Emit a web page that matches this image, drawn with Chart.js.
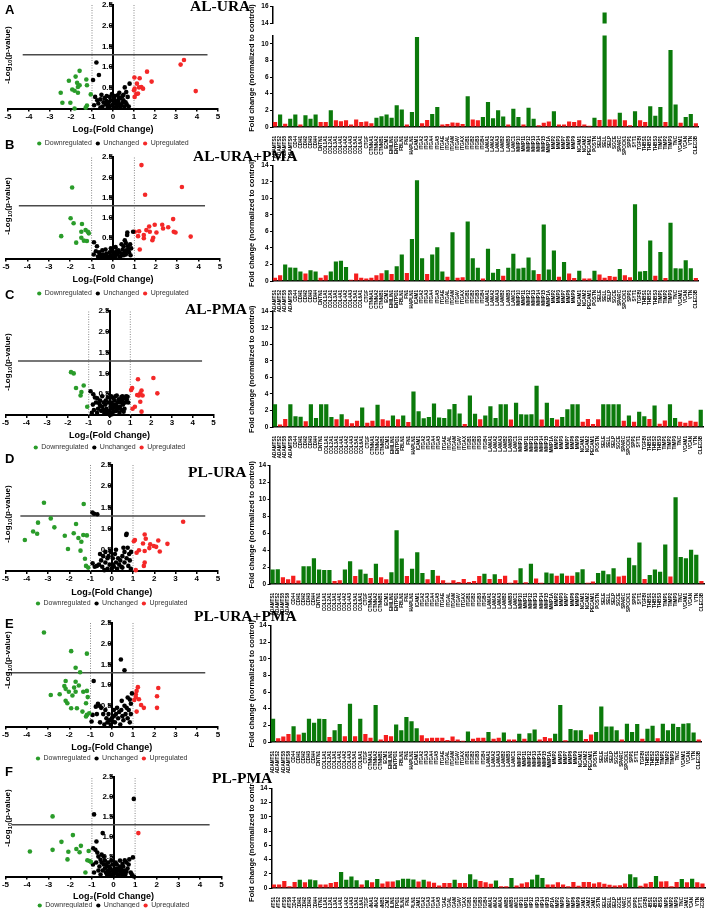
<!DOCTYPE html>
<html>
<head>
<meta charset="utf-8">
<script src="https://cdn.jsdelivr.net/npm/chart.js@4.4.0/dist/chart.umd.min.js"></script>
<style>
    body    { margin: 0; width: 709px; height: 908px; position: relative; overflow: hidden; background: #fff; }
    canvas  { position: absolute; }
    .letter { position: absolute; left: 5px; font: bold 13px/13px 'Liberation Sans', Arial, sans-serif; color: #000; }
    .title  { position: absolute; font: bold 15.5px/15.5px 'Liberation Serif', 'Times New Roman', serif; color: #000; white-space: nowrap; }
    .ytitle { position: absolute; font: bold 8px/8px 'Liberation Sans', Arial, sans-serif; color: #000; white-space: nowrap;
              transform: translate(-50%, -50%) rotate(-90deg); }
</style>
</head>
<body>
<script>
const GENES = [
    'ADAMTS1','ADAMTS2','ADAMTS5','ADAMTS8','CD44','CDH1','CDH2','CDH3','CDH4','CNTN1',
    'COL1A1','COL2A1','COL3A1','COL4A1','COL4A2','COL4A3','COL5A1','COL6A1','CTGF','CTNNA1',
    'CTNNA2','CTNNB1','ECM1','EMILIN1','ENTPD1','FBLN1','FN1','HAPLN1','ICAM1','ITGA2',
    'ITGA3','ITGA4','ITGA5','ITGAE','ITGAL','ITGAM','ITGAV','ITGAX','ITGB1','ITGB2',
    'ITGB3','ITGB4','LAMA1','LAMA2','LAMA3','LAMB2','LAMB3','LAMC1','MMP10','MMP11',
    'MMP12','MMP13','MMP14','MMP15','MMP1A','MMP2','MMP3','MMP7','MMP8','MMP9',
    'NCAM1','NCAM2','PECAM1','POSTN','SELE','SELL','SELP','SGCE','SPARC','SPOCK1',
    'SPP1','SYT1','TGFBI','THBS1','THBS2','THBS3','TIMP1','TIMP2','TIMP3','TNC',
    'VCAM1','VCAN','VTN','CLEC3B',
];

// fold change per gene, one array per condition
const FC_AL_URA = [
    0.6,1.5,0.4,1.0,1.5,0.3,1.4,1.0,1.5,0.6, 0.6,2.0,0.8,0.7,0.8,0.3,0.9,0.6,0.65,0.45,
    1.1,1.3,1.5,1.1,2.6,2.1,0.3,1.8,10.8,0.45, 0.85,1.55,2.4,0.3,0.35,0.55,0.5,0.35,3.7,0.9,
    0.8,1.2,3.0,1.05,2.0,1.25,0.3,2.2,1.2,0.3, 2.3,1.0,0.2,0.5,0.65,1.9,0.3,0.3,0.65,0.6,
    0.8,0.3,0.15,1.1,0.85,15.3,0.9,0.9,1.7,0.8, 0.2,1.9,0.8,0.6,2.5,1.35,2.4,0.6,9.25,2.7,
    0.5,1.2,1.55,0.45,
];
const FC_AL_URA_PMA = [
    0.4,0.7,2.0,1.65,1.6,1.15,0.9,1.3,1.15,0.4, 0.7,1.15,2.35,2.45,1.7,0.15,0.9,0.4,0.3,0.4,
    0.7,0.95,1.3,0.85,1.8,3.2,0.97,5.1,12.2,2.75, 0.85,3.2,4.1,1.15,0.5,5.9,0.4,0.45,7.2,2.75,
    1.6,0.3,3.9,1.0,1.45,0.65,1.6,3.3,1.5,1.6, 2.85,1.3,0.85,6.85,1.4,3.7,0.5,2.3,0.9,0.35,
    1.25,0.3,0.3,1.25,0.8,0.4,0.6,0.5,1.45,0.7, 0.45,9.3,1.15,1.2,4.9,0.65,3.5,0.35,7.05,1.55,
    1.5,2.5,1.55,0.35,
];
const FC_AL_PMA = [
    2.75,0.3,0.97,2.75,1.3,1.25,0.7,2.75,1.1,2.75, 2.75,1.2,0.95,1.55,0.95,0.45,0.75,2.35,0.5,0.75,
    2.7,0.95,0.8,1.4,0.95,1.4,0.6,4.3,1.9,1.05, 1.2,2.85,1.15,1.1,2.15,2.8,1.65,0.35,3.8,1.6,
    0.95,1.4,2.5,1.1,2.75,2.75,0.9,2.95,1.55,1.5, 1.55,5.0,0.9,2.95,1.1,0.9,1.2,2.15,2.75,2.75,
    0.65,0.97,0.35,0.95,2.75,2.75,2.75,2.75,0.75,1.4, 0.65,1.85,1.3,0.97,2.6,0.4,0.8,2.75,1.1,0.65,
    0.5,0.75,0.65,2.1,
];
const FC_PL_URA = [
    1.7,1.75,0.8,0.55,0.97,0.4,2.1,2.1,3.05,1.7, 1.65,1.65,0.35,0.45,1.7,2.7,0.95,1.7,1.2,0.7,
    2.4,0.8,0.55,1.4,6.35,3.0,0.95,1.8,3.75,1.3, 0.55,1.65,0.97,0.45,0.15,0.45,0.25,0.6,0.25,0.35,
    0.95,1.2,0.6,1.15,0.6,0.97,0.15,0.45,1.85,0.2, 2.4,0.65,0.15,1.35,1.25,0.97,1.25,0.97,0.97,1.4,
    1.75,0.15,0.3,1.3,1.55,1.15,1.85,0.9,0.97,3.1, 2.2,4.9,0.6,1.05,1.7,1.45,4.65,0.9,10.25,3.2,
    3.05,4.05,3.45,0.35,
];
const FC_PL_URA_PMA = [
    2.8,0.45,0.65,0.95,1.9,0.9,1.1,2.8,2.3,2.8, 2.75,0.6,1.4,2.15,0.7,4.6,0.7,2.8,0.95,0.5,
    4.45,0.3,0.85,0.7,2.1,1.4,3.0,2.5,1.65,0.8, 0.45,0.5,0.5,0.5,0.25,0.65,0.3,0.15,1.25,0.4,
    0.5,0.5,1.2,0.4,0.5,1.15,0.3,0.3,1.0,0.4, 1.05,1.5,0.3,0.6,0.45,1.0,4.45,0.2,1.55,1.4,
    1.4,0.35,0.9,1.2,4.25,1.85,1.85,1.4,0.3,2.2, 1.2,2.15,0.4,1.6,1.95,0.45,2.2,1.4,2.2,1.8,
    2.2,2.25,1.15,0.3,
];
const FC_PL_PMA = [
    0.5,0.5,0.97,0.25,0.85,1.15,0.8,1.2,1.1,0.5, 0.5,0.7,0.85,2.25,1.15,1.6,1.1,0.5,1.1,0.8,
    1.25,0.65,0.9,0.9,1.1,1.3,1.3,1.2,0.9,1.15, 0.9,0.75,0.35,0.7,0.7,1.15,0.7,0.7,1.95,1.2,
    0.97,0.8,0.6,1.05,0.25,0.25,1.4,0.35,0.65,0.8, 1.2,1.85,1.4,0.5,0.5,0.8,0.5,0.25,0.85,0.3,
    0.85,0.85,0.65,0.8,0.6,0.45,0.35,0.4,0.65,1.95, 1.5,0.3,0.65,0.85,1.7,0.9,0.95,0.25,0.85,1.25,
    0.8,1.3,0.8,0.65,
];

// volcano points [log2 fold change, -log10 p]
const AL_URA_DOWN = [[-1.59,0.91],[-2.1,0.67],[-1.78,0.77],[-1.71,0.62],[-1.67,0.52],[-1.59,0.56],[-1.27,0.70],[-1.24,0.56],[-1.94,0.46],
    [-1.83,0.43],[-1.67,0.38],[-2.49,0.38],[-2.41,0.14],[-2.03,0.14],[-1.83,0.0],[-1.3,0.02],[-1.24,0.07],[-1.06,0.34]];
const AL_URA_UNCH = [[-0.79,1.11],[-0.67,0.81],[-0.95,0.69],[0.79,0.60],[0.56,0.51],[0.63,0.40],[0.45,0.30],[-0.55,0.33],[-0.85,0.28],
    [-0.4,0.25],[-0.6,0.22],[-0.3,0.18],[-0.2,0.15],[-0.1,0.2],[0.05,0.22],[0.15,0.12],[0.25,0.18],[0.35,0.25],[0.5,0.2],[0.6,0.15],
    [0.7,0.28],[-0.9,0.08],[-0.7,0.12],[-0.5,0.05],[-0.35,0.1],[-0.15,0.05],[0.0,0.1],[0.1,0.03],[0.2,0.06],[0.3,0.1],[0.4,0.07],
    [0.55,0.05],[-0.25,0.02],[-0.45,0.15],[0.08,0.3],[0.22,0.32],[-0.05,0.35],[0.35,0.02],[-0.6,0.02],[0.65,0.1],[-0.15,0.28],
    [0.45,0.14],[-0.75,0.2],[0.12,0.18],[-0.3,0.3],[0.3,0.38],[0.5,0.33],[-0.2,0.08],[0.75,0.05],[0.28,0.25]];
const AL_URA_UP = [[3.38,1.17],[3.22,1.06],[3.94,0.42],[1.62,0.89],[1.27,0.73],[1.14,0.60],[1.84,0.65],[1.02,0.75],[1.35,0.52],
    [1.43,0.48],[1.24,0.51],[1.0,0.44],[1.11,0.35],[1.03,0.28],[1.19,0.36],[1.03,0.48]];

const AL_URA_PMA_DOWN = [[-1.91,1.75],[-1.98,0.99],[-1.84,0.87],[-1.45,0.85],[-1.28,0.70],[-1.48,0.66],[-1.13,0.62],[-1.48,0.51],
    [-1.36,0.44],[-1.22,0.43],[-1.72,0.39],[-2.42,0.55],[-1.17,0.66]];
const AL_URA_PMA_UNCH = [[-0.89,0.40],[0.94,0.66],[0.67,0.64],[0.66,0.58],[0.55,0.45],[0.6,0.38],[0.7,0.3],[0.5,0.3],[0.45,0.22],
    [0.62,0.2],[0.75,0.15],[0.8,0.35],[0.85,0.25],[-0.75,0.3],[-0.8,0.18],[-0.6,0.1],[-0.5,0.2],[-0.4,0.05],[-0.3,0.12],[-0.2,0.03],
    [-0.1,0.08],[0.0,0.02],[0.1,0.05],[0.2,0.1],[0.3,0.15],[0.35,0.05],[0.4,0.12],[0.25,0.2],[0.15,0.18],[0.05,0.13],[-0.05,0.18],
    [-0.15,0.15],[-0.25,0.05],[-0.35,0.22],[-0.45,0.1],[-0.55,0.04],[-0.65,0.15],[-0.7,0.05],[0.5,0.08],[0.6,0.1],[0.72,0.22],
    [0.3,0.02],[-0.1,0.25],[0.12,0.28],[0.4,0.35],[0.55,0.15],[0.82,0.08],[-0.9,0.1]];
const AL_URA_PMA_UP = [[1.33,2.30],[1.5,1.57],[3.22,1.76],[2.81,0.97],[2.3,0.83],[1.95,0.83],[1.69,0.79],[1.56,0.70],[1.22,0.67],
    [1.72,0.66],[1.17,0.55],[1.44,0.58],[1.44,0.5],[2.03,0.64],[1.84,0.45],[1.88,0.51],[2.34,0.74],[2.58,0.77],[2.84,0.66],
    [2.92,0.64],[3.63,0.54],[1.25,0.22],[1.02,0.66]];

const AL_PMA_DOWN = [[-1.85,1.03],[-1.72,1.0],[-1.24,0.71],[-1.61,0.65],[-1.35,0.55],[-1.39,0.47],[-1.07,0.2]];
const AL_PMA_UNCH = [[-0.91,0.57],[-0.78,0.5],[-0.59,0.4],[0.35,0.47],[0.57,0.43],[0.83,0.37],[0.87,0.44],[-0.7,0.42],[-0.65,0.3],
    [-0.8,0.25],[-0.5,0.28],[-0.45,0.35],[-0.35,0.2],[-0.3,0.12],[-0.2,0.25],[-0.15,0.15],[-0.1,0.05],[0.0,0.1],[0.05,0.2],[0.1,0.3],
    [0.15,0.15],[0.2,0.08],[0.25,0.35],[0.3,0.25],[0.4,0.3],[0.45,0.38],[0.5,0.2],[0.55,0.3],[0.6,0.35],[0.65,0.25],[0.7,0.4],
    [0.75,0.3],[0.8,0.45],[0.9,0.3],[-0.05,0.3],[-0.25,0.05],[-0.4,0.1],[-0.55,0.15],[-0.6,0.05],[-0.75,0.12],[-0.85,0.05],
    [0.12,0.02],[0.22,0.18],[0.32,0.1],[0.42,0.15],[0.48,0.05],[0.58,0.12],[0.68,0.08],[-0.18,0.35],[-0.08,0.42],[0.08,0.45],
    [0.18,0.4],[0.28,0.45],[0.62,0.45],[-0.35,0.45],[-0.28,0.3],[0.02,0.0],[-0.12,0.1],[0.35,0.2],[0.72,0.15],[-0.45,0.22],
    [0.15,0.25],[0.05,0.05]];
const AL_PMA_UP = [[1.37,0.86],[2.11,0.89],[1.04,0.6],[1.09,0.65],[1.54,0.59],[1.48,0.52],[1.33,0.48],[1.59,0.47],[2.3,0.52],
    [1.48,0.32],[1.22,0.2],[1.11,0.15],[1.54,0.08],[1.41,0.47]];

const PL_URA_DOWN = [[-3.19,1.61],[-2.87,1.24],[-3.47,1.14],[-4.09,0.73],[-3.70,0.93],[-3.51,0.88],[-2.70,1.03],[-2.21,0.83],
    [-2.06,0.52],[-1.79,0.89],[-1.68,1.11],[-1.57,0.78],[-1.43,0.69],[-1.47,0.48],[-1.34,0.85],[-1.32,1.58],[-1.17,0.84],
    [-1.26,0.29],[-1.21,0.12],[-1.11,0.08]];
const PL_URA_UNCH = [[-0.91,1.38],[-0.83,1.35],[-0.68,1.34],[0.7,0.88],[0.68,0.85],[0.91,0.45],[0.75,0.55],[0.6,0.45],[0.82,0.4],
    [0.5,0.35],[0.4,0.25],[0.3,0.3],[0.2,0.2],[0.1,0.1],[0.0,0.05],[-0.1,0.15],[-0.2,0.3],[-0.3,0.2],[-0.4,0.35],[-0.5,0.25],
    [-0.6,0.15],[-0.7,0.12],[-0.8,0.1],[-0.9,0.18],[-0.2,0.05],[0.25,0.05],[0.45,0.1],[0.6,0.2],[0.7,0.3],[0.85,0.25],[0.55,0.55],
    [0.15,0.4],[0.05,0.3],[-0.05,0.45],[-0.3,0.45],[-0.45,0.1],[0.35,0.15],[0.5,0.08],[-0.15,0.35],[0.78,0.12],[0.2,0.5],
    [-0.55,0.4],[0.05,0.15],[0.9,0.05],[-0.35,0.02]];
const PL_URA_UP = [[3.36,1.16],[1.55,0.86],[1.04,0.70],[1.09,0.73],[1.6,0.76],[2.19,0.72],[1.98,0.59],[1.81,0.63],[2.09,0.57],
    [2.62,0.64],[2.26,0.46],[1.47,0.65],[1.28,0.49],[1.17,0.43],[1.55,0.47],[1.55,0.2],[1.51,0.12],[1.13,0.02],[1.77,0.54]];

const PL_URA_PMA_DOWN = [[-3.19,2.27],[-1.91,1.82],[-1.17,1.76],[-1.70,1.42],[-1.49,1.31],[-2.23,0.98],[-2.17,0.91],[-2.87,0.76],
    [-2.45,0.78],[-2.02,0.84],[-1.77,0.94],[-1.70,0.84],[-1.55,0.99],[-1.34,0.84],[-1.17,0.86],[-2.17,0.62],[-2.09,0.56],
    [-1.91,0.44],[-1.64,0.44],[-1.38,0.36],[-1.21,0.56],[-1.13,0.71],[-1.17,0.28],[-1.06,0.32],[-1.21,0.24],[-2.17,1.1],
    [-1.70,1.08],[-1.85,0.75]];
const PL_URA_PMA_UNCH = [[0.43,1.62],[0.6,1.36],[-0.85,1.1],[0.47,0.62],[-0.65,0.55],[-0.6,0.5],[-0.75,0.48],[-0.5,0.45],[0.85,0.65],
    [0.9,0.55],[0.7,0.45],[0.6,0.5],[0.45,0.4],[0.35,0.35],[0.2,0.3],[0.1,0.25],[0.0,0.2],[-0.1,0.15],[-0.15,0.3],[-0.3,0.4],
    [-0.4,0.3],[-0.2,0.1],[-0.05,0.05],[0.05,0.12],[0.15,0.1],[0.3,0.2],[0.5,0.25],[0.65,0.3],[0.75,0.2],[0.85,0.1],[0.9,0.3],
    [-0.55,0.1],[-0.95,0.12],[-0.7,0.3],[0.25,0.45],[0.55,0.15],[0.4,0.05],[-0.25,0.2],[0.1,0.4],[0.8,0.4],[-0.35,0.05],
    [0.95,0.8],[0.75,0.7],[-0.9,0.28]];
const PL_URA_PMA_UP = [[2.19,0.93],[2.13,0.73],[2.13,0.45],[1.17,0.86],[1.13,0.71],[1.06,0.64],[1.28,0.66],[1.38,0.52],
    [1.51,0.45],[1.17,0.36],[1.13,0.78],[1.23,0.95]];

const PL_PMA_DOWN = [[-2.82,1.51],[-1.88,1.04],[-2.41,0.87],[-3.87,0.63],[-2.82,0.67],[-2.09,0.62],[-1.72,0.69],[-1.51,0.77],
    [-1.57,0.61],[-1.15,0.64],[-2.13,0.43],[-1.21,0.41],[-1.11,0.39],[-1.05,0.37],[-1.3,0.10]];
const PL_PMA_UNCH = [[0.94,1.95],[-0.9,1.56],[-0.5,1.09],[-0.79,0.88],[-0.94,0.71],[-0.84,0.67],[0.9,0.48],[0.73,0.43],[0.52,0.41],
    [0.42,0.32],[-0.75,0.6],[-0.7,0.5],[-0.6,0.42],[-0.55,0.35],[-0.45,0.3],[-0.4,0.2],[-0.3,0.25],[-0.25,0.15],[-0.2,0.1],
    [-0.1,0.05],[0.0,0.1],[0.1,0.15],[0.2,0.2],[0.3,0.25],[0.35,0.1],[0.25,0.05],[0.15,0.08],[0.05,0.2],[-0.05,0.3],[-0.15,0.2],
    [-0.35,0.1],[-0.5,0.15],[-0.65,0.25],[-0.8,0.35],[0.6,0.35],[0.65,0.2],[0.5,0.15],[0.45,0.25],[0.4,0.05],[0.55,0.05],
    [-0.6,0.05],[-0.9,0.1],[-0.95,0.3],[0.8,0.1],[0.7,0.3],[0.3,0.4],[0.15,0.3],[-0.1,0.4],[-0.25,0.35],[-0.4,0.4],[0.0,0.02],
    [-0.15,0.02],[0.2,0.02],[0.1,0.35],[-0.3,0.05],[0.35,0.18],[-0.55,0.55],[-0.45,0.5],[0.85,0.05],[0.95,0.0],[0.6,0.12],
    [-0.2,0.25],[0.05,0.08],[-0.05,0.15],[0.25,0.15],[-0.35,0.3],[0.45,0.12],[-0.7,0.15]];
const PL_PMA_UP = [[1.15,1.09]];

const P_CUT  = 1.3;
const FC_CUT = 1;
const P_LINE_FROM = [-4.3, -4.4, -4.4, -4.3, -5.0, -4.7];
const P_LINE_TO   = [ 4.5,  4.3,  4.45, 4.4,  4.4,  4.45];

const GREEN_BAR = '#0b7a0b';
const RED_BAR   = '#f51d1d';
const GREEN_PT  = '#2a9c2a';
const RED_PT    = '#f42828';
const FONT      = "'Liberation Sans', Arial, sans-serif";

// page positions of every panel (pixels)
const PANELS = [
    { letter: 'A', title: 'AL-URA',     letterY: 5,     titleX: 190, titleY: 1,     vTop: 5,   v0: 108,   vL: 8,   vR: 218,   yTitleY: 55,  xTitleY: 129,   legendY: 143,
      fc: FC_AL_URA,     pts: [AL_URA_DOWN, AL_URA_UNCH, AL_URA_UP],             bTop: 34,  b0: 127, bL: 272.5, bR: 698.4, bMax: 11 },
    { letter: 'B', title: 'AL-URA+PMA', letterY: 139.3, titleX: 193, titleY: 150.7, vTop: 157, v0: 258,   vL: 6,   vR: 220,   yTitleY: 206, xTitleY: 279,   legendY: 293,
      fc: FC_AL_URA_PMA, pts: [AL_URA_PMA_DOWN, AL_URA_PMA_UNCH, AL_URA_PMA_UP], bTop: 164, b0: 281, bL: 272.5, bR: 698.4, bMax: 14 },
    { letter: 'C', title: 'AL-PMA',     letterY: 289.3, titleX: 185, titleY: 304,   vTop: 311, v0: 414.5, vL: 5.5, vR: 213.5, yTitleY: 362, xTitleY: 435,   legendY: 447,
      fc: FC_AL_PMA,     pts: [AL_PMA_DOWN, AL_PMA_UNCH, AL_PMA_UP],             bTop: 310, b0: 427, bL: 272.4, bR: 703.3, bMax: 14 },
    { letter: 'D', title: 'PL-URA',     letterY: 453.7, titleX: 188, titleY: 467,   vTop: 465, v0: 570.5, vL: 5.5, vR: 218,   yTitleY: 514, xTitleY: 592,   legendY: 603,
      fc: FC_PL_URA,     pts: [PL_URA_DOWN, PL_URA_UNCH, PL_URA_UP],             bTop: 464, b0: 584, bL: 270,   bR: 704,   bMax: 14 },
    { letter: 'E', title: 'PL-URA+PMA', letterY: 618.7, titleX: 194, titleY: 610.3, vTop: 623, v0: 726,   vL: 5.5, vR: 218,   yTitleY: 660, xTitleY: 747.5, legendY: 758,
      fc: FC_PL_URA_PMA, pts: [PL_URA_PMA_DOWN, PL_URA_PMA_UNCH, PL_URA_PMA_UP], bTop: 624, b0: 742, bL: 270.5, bR: 701.3, bMax: 14 },
    { letter: 'F', title: 'PL-PMA',     letterY: 767,   titleX: 212, titleY: 772.7, vTop: 777, v0: 876,   vL: 5.5, vR: 221.5, yTitleY: 818, xTitleY: 896,   legendY: 905,
      fc: FC_PL_PMA,     pts: [PL_PMA_DOWN, PL_PMA_UNCH, PL_PMA_UP],             bTop: 787, b0: 888, bL: 271.4, bR: 705.6, bMax: 14 },
];

const LEGEND_FONT = 7;
const LEGEND_PAD  = 4;
const LEGEND_H    = LEGEND_FONT + LEGEND_PAD + 10;
const BAR_LEFT    = 246;
const BAR_XAXIS_H = 34;

Chart.defaults.font.family = FONT;
Chart.defaults.color       = '#000';

function addCanvas(left, top, w, h) {
    const c = document.createElement('canvas');
    c.width  = Math.round(w);
    c.height = Math.round(h);
    c.style.left = left + 'px';
    c.style.top  = top + 'px';
    document.body.appendChild(c);
    return c;
}

function addText(cls, html, left, top) {
    const d = document.createElement('div');
    d.className = cls;
    d.innerHTML = html;
    d.style.left = left + 'px';
    d.style.top  = top + 'px';
    document.body.appendChild(d);
    return d;
}

const toXY = pts => pts.map(([x, y]) => ({ x, y }));

function makeVolcano(p, idx) {
    const W      = 232;
    const top    = p.vTop - 6;
    const xAxisH = p.legendY - LEGEND_PAD - LEGEND_FONT / 2 - p.v0;
    const H      = p.v0 - top + xAxisH + LEGEND_H;
    const c      = addCanvas(0, top, W, H);
    const [down, unch, up] = p.pts;
    const titleLH = 9 * 1.2;

    const pointSet = (label, data, color) => ({
        label, data: toXY(data), backgroundColor: color, borderColor: color,
        pointRadius: 2.3, pointBorderWidth: 0, clip: false,
    });
    const guide = (data, color, width, dash) => ({
        type: 'line', label: '', data, borderColor: color, borderWidth: width,
        borderDash: dash, pointRadius: 0, fill: false,
    });

    new Chart(c, {
        type: 'scatter',
        data: {
            datasets: [
                pointSet('Downregulated', down, GREEN_PT),
                pointSet('Unchanged',     unch, '#000'),
                pointSet('Upregulated',   up,   RED_PT),
                guide([{ x: P_LINE_FROM[idx], y: P_CUT }, { x: P_LINE_TO[idx], y: P_CUT }], '#4a4a4a', 1.5, []),
                guide([{ x: -FC_CUT, y: 0 }, { x: -FC_CUT, y: 2.5 }], '#8a8a8a', 1, [1, 1.5]),
                guide([{ x:  FC_CUT, y: 0 }, { x:  FC_CUT, y: 2.5 }], '#8a8a8a', 1, [1, 1.5]),
            ],
        },
        options: {
            responsive: false,
            animation:  false,
            layout: { padding: { left: p.vL, right: W - p.vR, top: 6, bottom: 0 } },
            plugins: {
                tooltip: { enabled: false },
                legend: {
                    position: 'bottom',
                    labels: {
                        filter: item => item.datasetIndex < 3,
                        usePointStyle: true, pointStyle: 'circle',
                        boxWidth: 4, boxHeight: 3, padding: LEGEND_PAD,
                        font: { size: LEGEND_FONT }, color: '#333',
                    },
                },
            },
            scales: {
                x: {
                    type: 'linear', min: -5, max: 5,
                    ticks:  { stepSize: 1, font: { size: 8, weight: 'bold' }, padding: 0 },
                    grid:   { drawOnChartArea: false, tickLength: 3, color: '#000', lineWidth: 1.5 },
                    border: { color: '#000', width: 2 },
                    title:  { display: true, text: 'Log₂(Fold Change)', font: { size: 9, weight: 'bold' },
                              padding: { top: 0, bottom: p.legendY - LEGEND_PAD - LEGEND_FONT / 2 - p.xTitleY - titleLH / 2 } },
                    afterFit: s => { s.height = xAxisH; },
                },
                y: {
                    min: 0, max: 2.5, position: { x: 0 },
                    ticks:  { stepSize: 0.5, font: { size: 8, weight: 'bold' }, padding: 1,
                              callback: v => (v === 0 ? '' : v.toFixed(1)) },
                    grid:   { drawOnChartArea: false, tickLength: 3, color: '#000', lineWidth: 1.5 },
                    border: { color: '#000', width: 2 },
                },
            },
        },
    });

    addText('ytitle', '-Log<sub style="font-size:6px">10</sub>(p-value)', 8.5, p.yTitleY);
}

function barOptions(p, yMin, yMax, areaTop, canvasTop, showX, showTitle) {
    return {
        responsive: false,
        animation:  false,
        layout: { padding: { left: 0, right: 709 - p.bR, top: areaTop - canvasTop, bottom: 0 } },
        plugins: { legend: { display: false }, tooltip: { enabled: false } },
        scales: {
            x: {
                display: showX,
                ticks:  { autoSkip: false, maxRotation: 90, minRotation: 90, font: { size: 4.6, weight: 'bold' }, padding: 1 },
                grid:   { display: false },
                border: { color: '#000', width: 1.5 },
                afterFit: s => { if (showX) s.height = BAR_XAXIS_H; },
            },
            y: {
                min: yMin, max: yMax,
                ticks:  { stepSize: 1, font: { size: 6.5, weight: 'bold' }, padding: 1.5 },
                grid:   { drawOnChartArea: false, tickLength: 2.5, color: '#000', lineWidth: 1 },
                border: { color: '#000', width: 1.5 },
                title:  { display: showTitle, text: 'Fold change (normalized to control)',
                          font: { size: 7.5, weight: 'bold' }, padding: { top: 1, bottom: 0 } },
                afterFit: s => { s.width = p.bL - BAR_LEFT; },
            },
        },
    };
}

function barData(values) {
    return {
        labels: GENES,
        datasets: [{
            data: values,
            backgroundColor: ctx => (ctx.raw >= 1 ? GREEN_BAR : RED_BAR),
            borderWidth: 0,
            barPercentage: 0.82,
            categoryPercentage: 1,
        }],
    };
}

function makeBars(p) {
    const W      = 709 - BAR_LEFT;
    const top    = p.bTop - 4;
    const H      = p.b0 - top + BAR_XAXIS_H;
    const broken = p.bMax !== 14;
    const c      = addCanvas(BAR_LEFT, top, W, H);
    new Chart(c, { type: 'bar', data: barData(p.fc), options: barOptions(p, 0, p.bMax, p.bTop, top, true, !broken) });

    if (broken) {
        // upper part of the broken axis (14 to 16)
        const uTop = 1, uAreaTop = 5, uAreaBottom = 29;
        const u    = addCanvas(BAR_LEFT, uTop, W, uAreaBottom - uTop);
        new Chart(u, { type: 'bar', data: barData(p.fc), options: barOptions(p, 14, 16, uAreaTop, uTop, false, false) });
        const t = addText('ytitle', 'Fold change (normalized to control)', 251.5, 68);
        t.style.fontSize = '7.5px';
    }
}

document.addEventListener('DOMContentLoaded', () => {
    PANELS.forEach((p, i) => {
        makeVolcano(p, i);
        makeBars(p);
        addText('letter', p.letter, 5, p.letterY - 1.7);
        addText('title', p.title, p.titleX, p.titleY - 2.7);
    });
});
</script>
</body>
</html>
